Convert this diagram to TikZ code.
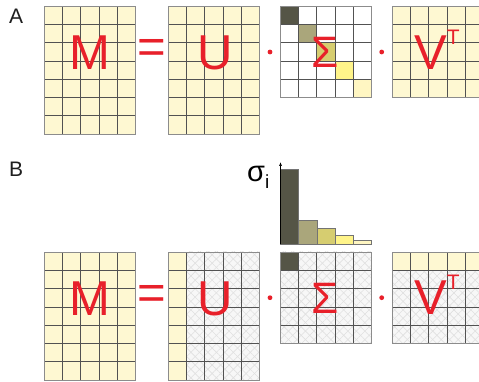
\documentclass[tikz,border=0pt]{standalone}
\usepackage{fontspec}
\setmainfont{Liberation Sans}
\usepackage{xcolor}
\usetikzlibrary{patterns.meta,arrows.meta}
\definecolor{matyellow}{HTML}{FEF8D2}
\definecolor{svred}{HTML}{E8202A}
\definecolor{sone}{HTML}{555546}
\definecolor{stwo}{HTML}{AAA67B}
\definecolor{sthree}{HTML}{D6CD70}
\definecolor{sfour}{HTML}{FFF48A}
\definecolor{sfive}{HTML}{FFF6C2}

\begin{document}
\begin{tikzpicture}[x=1pt,y=1pt,
  matgrid/.style={draw=black!68,line width=0.75pt,step=18.3pt},
  matframe/.style={draw=black!45,line width=0.8pt},
  bigred/.style={text=svred,inner sep=0pt,font=\fontsize{49}{49}\selectfont},
  panlbl/.style={text=black!88,inner sep=0pt,anchor=base west,font=\fontsize{21}{21}\selectfont},
  sbar/.style={draw=black!55,line width=0.6pt},
  hatchup/.style={pattern={Lines[angle=45,distance=6pt,line width=0.6pt]},pattern color=black!12},
  hatchdn/.style={pattern={Lines[angle=-45,distance=6pt,line width=0.6pt]},pattern color=black!12}]
  \clip (0,0) rectangle (479,382);
  \fill[white] (0,0) rectangle (479,382);

  % ---- panel A
  \node[panlbl] (labA) at (9,358) {A};
  \fill[matyellow] (44,247.9) rectangle +(91.5,128.1);
  \draw[matgrid,shift={(44,247.9)}] (0,0) grid (91.6,128.2);
  \draw[matframe] (44,247.9) rectangle +(91.5,128.1);
  \fill[matyellow] (168,247.9) rectangle +(91.5,128.1);
  \draw[matgrid,shift={(168,247.9)}] (0,0) grid (91.6,128.2);
  \draw[matframe] (168,247.9) rectangle +(91.5,128.1);
  \fill[sone] (280,357.7) rectangle +(18.3,18.3);
  \fill[stwo] (298.3,339.4) rectangle +(18.3,18.3);
  \fill[sthree] (316.6,321.1) rectangle +(18.3,18.3);
  \fill[sfour] (334.9,302.8) rectangle +(18.3,18.3);
  \fill[sfive] (353.2,284.5) rectangle +(18.3,18.3);
  \draw[matgrid,shift={(280,284.5)}] (0,0) grid (91.6,91.6);
  \draw[matframe] (280,284.5) rectangle +(91.5,91.5);
  \fill[matyellow] (392,284.5) rectangle +(91.5,91.5);
  \draw[matgrid,shift={(392,284.5)}] (0,0) grid (91.6,91.6);
  \draw[matframe] (392,284.5) rectangle +(91.5,91.5);
  \node[bigred,anchor=base] (MA) at (89.5,312) {M};
  \node[bigred] (eqA) at (152,331) {=};
  \node[bigred,anchor=base] (UA) at (214.7,312) {U};
  \fill[svred] (270,330) circle (2.4);
  \node[bigred,anchor=base,font=\fontsize{44}{44}\selectfont] (SA) at (325.5,314) {Σ};
  \fill[svred] (381.7,330) circle (2.4);
  \node[bigred,anchor=base west] (VA) at (414,312) {V\raisebox{25pt}{\fontsize{21}{21}\selectfont T}};

  % ---- panel B
  \node[panlbl] (labB) at (9,205) {B};
  % singular values
  \fill[sone] (280.5,138) rectangle (298.5,213);
  \draw[sbar] (280.5,138) rectangle (298.5,213);
  \draw[sbar,fill=stwo] (298.5,138) rectangle (316.8,162);
  \draw[sbar,fill=sthree] (316.8,138) rectangle (335,153.3);
  \draw[sbar,fill=sfour] (335,138) rectangle (353.3,146.7);
  \draw[sbar,fill=sfive] (353.3,138) rectangle (371.7,142);
  \coordinate (axbot) at (280.5,138);
  \coordinate (axtop) at (280.5,220);
  \draw[-{Latex[length=4pt,width=3pt]},line width=0.6pt] (axbot) -- (axtop);
  \node[inner sep=0pt,anchor=base west,font=\fontsize{29}{29}\selectfont] (sig) at (247,200) {σ\raisebox{-7pt}{\fontsize{19}{19}\selectfont i}};
  % matrices
  \fill[matyellow] (44,1.9) rectangle +(91.5,128.1);
  \draw[matgrid,shift={(44,1.9)}] (0,0) grid (91.6,128.2);
  \draw[matframe] (44,1.9) rectangle +(91.5,128.1);
  \fill[matyellow] (168,1.9) rectangle +(18.3,128.1);
  \fill[black!3] (186.3,1.9) rectangle (259.5,130);
  \path[hatchup] (186.3,1.9) rectangle (259.5,130);
  \path[hatchdn] (186.3,1.9) rectangle (259.5,130);
  \draw[matgrid,shift={(168,1.9)}] (0,0) grid (91.6,128.2);
  \draw[matframe] (168,1.9) rectangle +(91.5,128.1);
  \fill[black!3] (280,38.5) rectangle +(91.5,91.5);
  \path[hatchup] (280,38.5) rectangle +(91.5,91.5);
  \path[hatchdn] (280,38.5) rectangle +(91.5,91.5);
  \fill[sone] (280,111.7) rectangle +(18.3,18.3);
  \draw[matgrid,shift={(280,38.5)}] (0,0) grid (91.6,91.6);
  \draw[matframe] (280,38.5) rectangle +(91.5,91.5);
  \fill[black!3] (392,38.5) rectangle +(91.5,73.2);
  \path[hatchup] (392,38.5) rectangle +(91.5,73.2);
  \path[hatchdn] (392,38.5) rectangle +(91.5,73.2);
  \fill[matyellow] (392,111.7) rectangle +(91.5,18.3);
  \draw[matgrid,shift={(392,38.5)}] (0,0) grid (91.6,91.6);
  \draw[matframe] (392,38.5) rectangle +(91.5,91.5);
  \node[bigred,anchor=base] (MB) at (89.5,66) {M};
  \node[bigred] (eqB) at (152,85) {=};
  \node[bigred,anchor=base] (UB) at (214.7,66) {U};
  \fill[svred] (270,84.3) circle (2.4);
  \node[bigred,anchor=base,font=\fontsize{44}{44}\selectfont] (SB) at (325.5,68.7) {Σ};
  \fill[svred] (381.7,84.3) circle (2.4);
  \node[bigred,anchor=base west] (VB) at (414,67) {V\raisebox{25pt}{\fontsize{21}{21}\selectfont T}};
\end{tikzpicture}
\end{document}
